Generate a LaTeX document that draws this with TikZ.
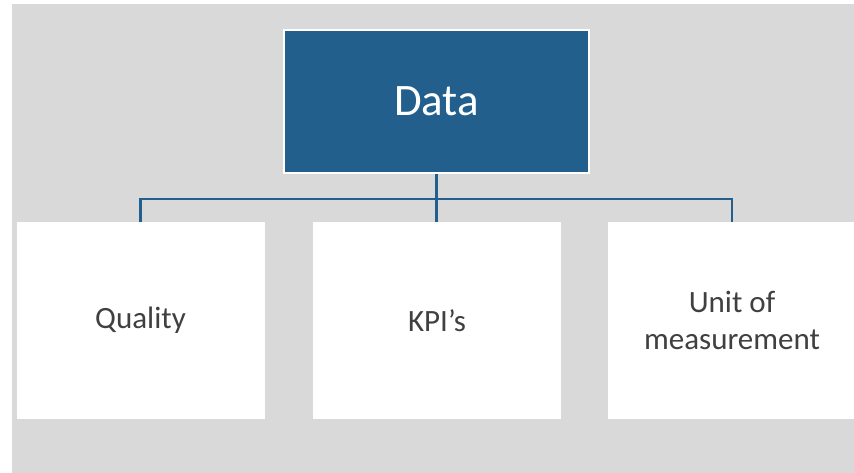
\documentclass[tikz,border=0pt]{standalone}
\usepackage{fontspec}
\setmainfont{Carlito}
\definecolor{panel}{HTML}{D9D9D9}
\definecolor{navy}{HTML}{235F8D}
\definecolor{ink}{HTML}{404040}
\begin{document}
\begin{tikzpicture}[x=1pt,y=-1pt,
  topbox/.style={fill=navy, draw=white, line width=2.5pt, minimum width=305pt,
    minimum height=143pt, inner sep=0pt, text=white,
    font=\fontsize{45}{54}\selectfont},
  leafbox/.style={fill=white, draw=none, minimum width=248pt, minimum height=196pt,
    inner sep=0pt, text=ink, align=center, font=\fontsize{31}{37}\selectfont},
  link/.style={draw=navy, line width=2.5pt, line join=miter}]
\useasboundingbox (0,0) rectangle (854,473);
\clip (0,0) rectangle (854,473);
% grey backdrop
\fill[panel] (12,4) rectangle (860,480);
% boxes
\node[topbox] (data) at (436.5,101.5) {Data};
\node[leafbox] (quality) at (140.5,320.5) {Quality};
\node[leafbox] (kpi) at (437,320.5) {KPI’s};
\node[leafbox] (unit) at (732,320.5) {Unit of\\measurement};
% tree connectors
\coordinate (bus) at (436,199);
\draw[link] (data.south) -- (data.south |- kpi.north);
\draw[link] (quality.north) -- (quality.north |- bus) -- (unit.north |- bus) -- (unit.north);
\end{tikzpicture}
\end{document}
